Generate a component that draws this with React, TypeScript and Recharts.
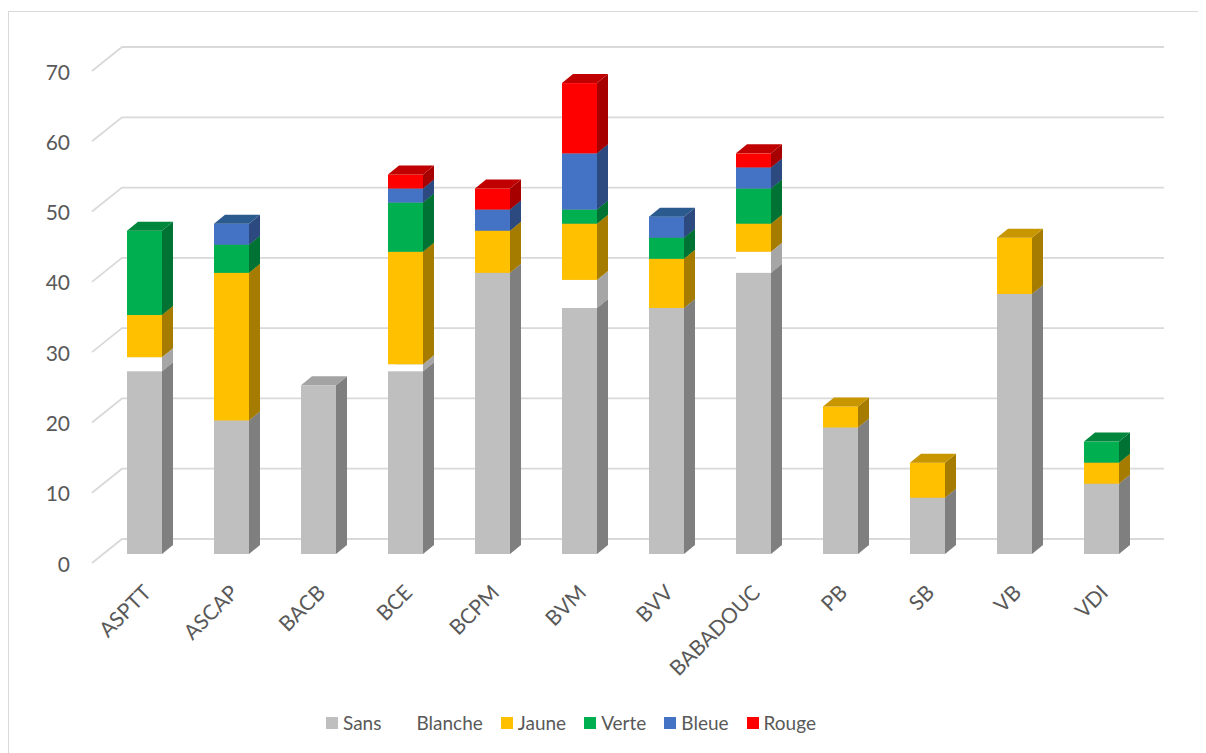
import React from 'react';
import { BarChart, Bar, XAxis, YAxis, CartesianGrid } from 'recharts';

// values
const categories = ['ASPTT', 'ASCAP', 'BACB', 'BCE', 'BCPM', 'BVM', 'BVV', 'BABADOUC', 'PB', 'SB', 'VB', 'VDI'];
const sans = [26, 19, 24, 26, 40, 35, 35, 40, 18, 8, 37, 10];
const blanche = [2, 0, 0, 1, 0, 4, 0, 3, 0, 0, 0, 0];
const jaune = [6, 21, 0, 16, 6, 8, 7, 4, 3, 5, 8, 3];
const verte = [12, 4, 0, 7, 0, 2, 3, 5, 0, 0, 0, 3];
const bleue = [0, 3, 0, 2, 3, 8, 3, 3, 0, 0, 0, 0];
const rouge = [0, 0, 0, 2, 3, 10, 0, 2, 0, 0, 0, 0];
const yTicks = [0, 10, 20, 30, 40, 50, 60, 70];

const series = [
  { key: 'Sans', values: sans, front: '#bfbfbf', side: '#7f7f7f', top: '#a3a3a3' },
  { key: 'Blanche', values: blanche, front: '#ffffff', side: '#a6a6a6', top: '#d9d9d9' },
  { key: 'Jaune', values: jaune, front: '#ffc000', side: '#a67c00', top: '#c89600' },
  { key: 'Verte', values: verte, front: '#00b050', side: '#007233', top: '#00873d' },
  { key: 'Bleue', values: bleue, front: '#4472c4', side: '#2c4a80', top: '#2b5a8f' },
  { key: 'Rouge', values: rouge, front: '#ff0000', side: '#a60000', top: '#c00000' },
];

const data = categories.map((name, i) => {
  const row: any = { name };
  series.forEach(s => { row[s.key] = s.values[i]; });
  return row;
});

const FONT = "Lato, 'Open Sans', sans-serif";
const TEXT = '#595959';

// depth of the 3D column
const DX = 11;
const DY = 9;

const Column3D = (props: any) => {
  const { x, y, width, height, colors } = props;
  if (!height || height <= 0) return null;
  const x1 = x + width;
  const yb = y + height;
  return (
    <g>
      <rect x={x} y={y} width={width} height={height} fill={colors.front} />
      <polygon
        points={`${x1},${yb} ${x1},${y} ${x1 + DX},${y - DY} ${x1 + DX},${yb - DY}`}
        fill={colors.side}
      />
      <polygon
        points={`${x},${y} ${x1},${y} ${x1 + DX},${y - DY} ${x + DX},${y - DY}`}
        fill={colors.top}
      />
    </g>
  );
};

// gridline drawn on the back wall with the left-wall diagonal
const WallLine = (props: any) => {
  const { x1, y1, x2, index } = props;
  return (
    <polyline
      key={`wl-${index}`}
      points={`${x1 - 9},${y1 + 9} ${x1 + 21},${y1 - 15} ${x2 + 19},${y1 - 15}`}
      fill="none"
      stroke="#d9d9d9"
      strokeWidth={1.8}
    />
  );
};

const YTick = ({ x, y, payload }: any) => (
  <text x={x} y={y + 9} textAnchor="end" dominantBaseline="central" fill={TEXT} fontSize={21} fontFamily={FONT}>
    {payload.value}
  </text>
);

const XTick = ({ x, y, payload }: any) => {
  const ax = x + 2;
  const ay = y + 34;
  return (
    <text
      x={ax}
      y={ay}
      transform={`rotate(-45, ${ax}, ${ay})`}
      textAnchor="end"
      dominantBaseline="central"
      fill={TEXT}
      fontSize={21}
      fontFamily={FONT}
    >
      {payload.value}
    </text>
  );
};

export default function App() {
  return (
    <div
      style={{
        position: 'relative',
        marginTop: 3,
        width: 1189,
        height: 741,
        overflow: 'hidden',
        borderTop: '1px solid #d9d9d9',
        borderLeft: '1px solid #d9d9d9',
        background: '#fff',
      }}
    >
      <BarChart width={1189} height={741} data={data} margin={{ top: 50, right: 53, bottom: 49, left: 32 }}>
        <CartesianGrid vertical={false} horizontal={(p: any) => <WallLine {...p} />} />
        <XAxis
          dataKey="name"
          axisLine={false}
          tickLine={false}
          tickSize={0}
          tickMargin={0}
          interval={0}
          height={150}
          tick={<XTick />}
        />
        <YAxis
          domain={[0, 70]}
          ticks={yTicks}
          axisLine={false}
          tickLine={false}
          tickSize={0}
          tickMargin={31}
          width={60}
          tick={<YTick />}
        />
        {series.map(s => (
          <Bar
            key={s.key}
            dataKey={s.key}
            stackId="a"
            barSize={35}
            fill={s.front}
            isAnimationActive={false}
            shape={(p: any) => <Column3D {...p} colors={s} />}
          />
        ))}
      </BarChart>
      <div
        style={{
          position: 'absolute',
          left: 317,
          top: 699,
          display: 'flex',
          alignItems: 'center',
          gap: 18,
          fontFamily: FONT,
          fontSize: 19,
          color: TEXT,
        }}
      >
        {series.map(s => (
          <div key={s.key} style={{ display: 'flex', alignItems: 'center' }}>
            <span style={{ width: 12, height: 12, background: s.front, marginRight: 5, display: 'inline-block' }} />
            <span>{s.key}</span>
          </div>
        ))}
      </div>
    </div>
  );
}
